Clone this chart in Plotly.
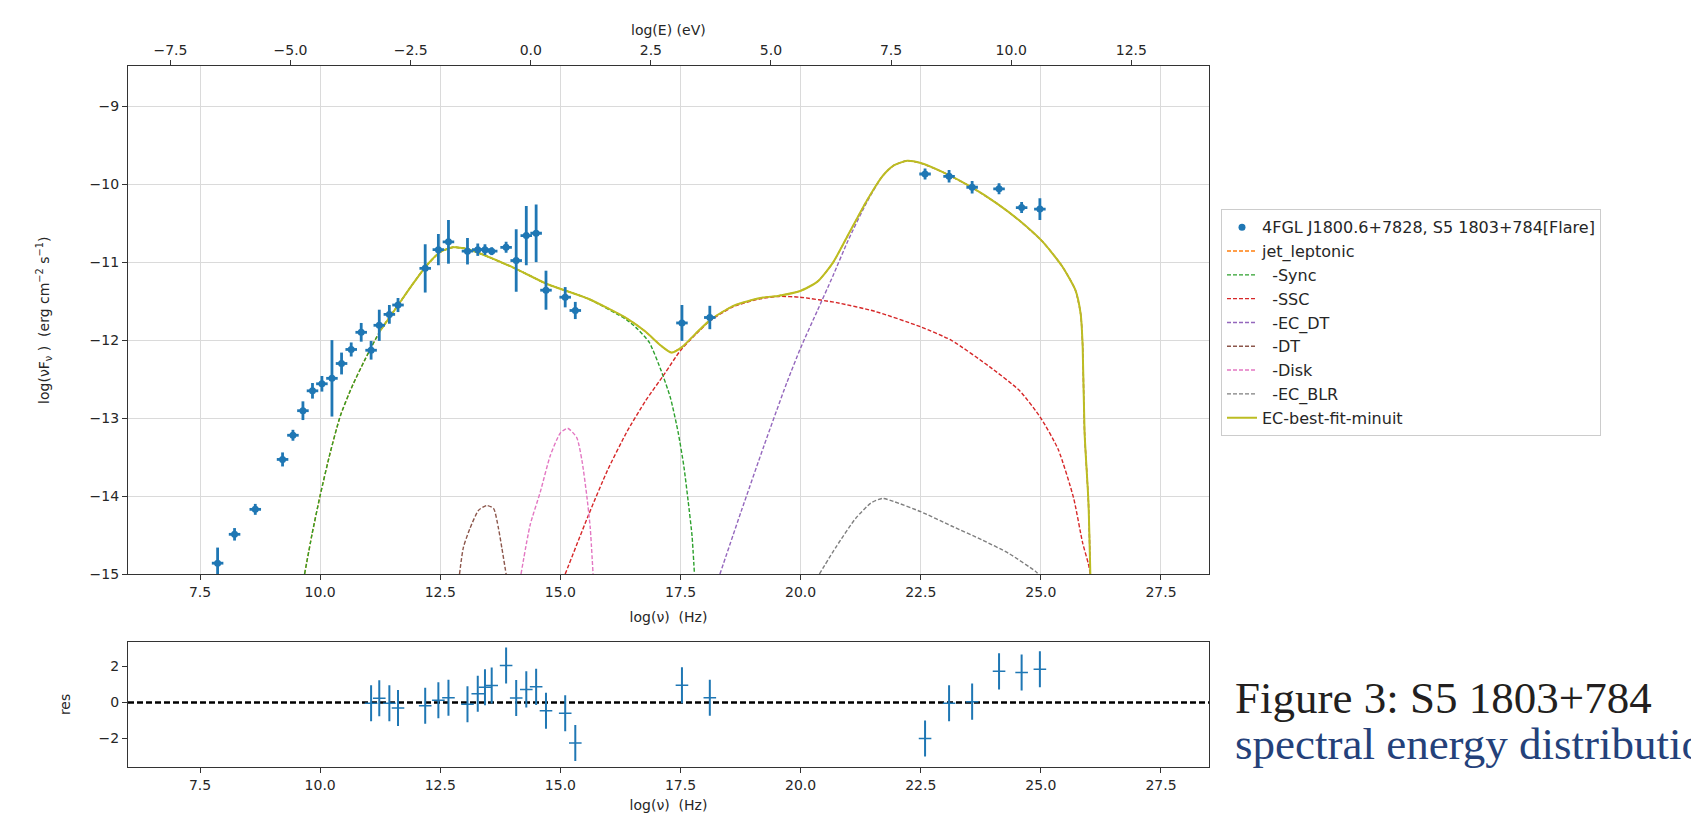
import plotly.graph_objects as go

# ---------------- data ----------------
nu_data = [7.865, 8.218, 8.649, 9.217, 9.433, 9.641, 9.840, 10.036, 10.245, 10.445,
           10.646, 10.854, 11.060, 11.230, 11.440, 11.620, 12.186, 12.460, 12.670, 13.066,
           13.280, 13.430, 13.570, 13.870, 14.080, 14.290, 14.495, 14.700, 15.100, 15.310,
           17.530, 18.110, 22.590, 23.090, 23.570, 24.130, 24.600, 24.980]
flux_data = [-14.86, -14.49, -14.17, -13.53, -13.22, -12.905, -12.65, -12.56, -12.49, -12.30,
             -12.12, -11.90, -12.13, -11.81, -11.67, -11.55, -11.08, -10.84, -10.74, -10.86,
             -10.84, -10.84, -10.86, -10.81, -10.98, -10.66, -10.63, -11.36, -11.45, -11.62,
             -11.78, -11.71, -9.87, -9.90, -10.04, -10.06, -10.30, -10.32]
flux_err = [0.20, 0.08, 0.07, 0.09, 0.07, 0.12, 0.10, 0.10, 0.49, 0.14,
            0.09, 0.12, 0.12, 0.20, 0.12, 0.09, 0.31, 0.20, 0.28, 0.17,
            0.08, 0.07, 0.05, 0.07, 0.40, 0.38, 0.37, 0.25, 0.13, 0.11,
            0.23, 0.15, 0.07, 0.08, 0.08, 0.07, 0.07, 0.14]
nu_err = [0.12] * len(nu_data)

fit_min_nu = 11.0
residuals = [-0.04, 0.24, -0.04, -0.30, -0.18, 0.13, 0.27, -0.09, 0.49, 0.85,
             0.95, 2.05, 0.25, 0.73, 0.87, -0.45, -0.60, -2.24, 0.96, 0.27,
             -2.00, -0.04, 0.05, 1.73, 1.67, 1.85]
res_err = [1.0] * len(residuals)

total_x = [9.675, 9.83, 10.0, 10.21, 10.42, 10.66, 10.94, 11.25, 11.60, 11.94, 12.22, 12.50,
           12.77, 13.05, 13.33, 14.02, 14.72, 15.58, 16.38, 16.77, 17.09, 17.31, 17.53, 17.81,
           18.12, 18.60, 19.16, 19.55, 19.99, 20.35, 20.67, 20.99, 21.38, 21.70, 21.94, 22.22,
           22.50, 22.97, 23.53, 24.09, 24.56, 25.04, 25.44, 25.72, 25.83, 25.87, 25.91, 25.99, 26.03]
total_y = [-15.0, -14.49, -13.99, -13.44, -12.97, -12.60, -12.24, -11.88, -11.57, -11.27, -11.04, -10.87,
           -10.81, -10.83, -10.89, -11.07, -11.28, -11.47, -11.72, -11.89, -12.07, -12.16, -12.09, -11.92,
           -11.74, -11.56, -11.46, -11.43, -11.37, -11.25, -11.01, -10.65, -10.21, -9.90, -9.76, -9.70,
           -9.73, -9.85, -10.03, -10.25, -10.47, -10.74, -11.05, -11.36, -11.67, -12.07, -13.18, -14.07, -15.0]

sync_x = [9.675, 9.83, 10.0, 10.21, 10.42, 10.66, 10.94, 11.25, 11.60, 11.94, 12.22, 12.50, 12.77,
          13.05, 13.33, 14.02, 14.72, 15.58, 16.38, 16.61, 16.85, 17.09, 17.29, 17.45, 17.57,
          17.66, 17.74, 17.79]
sync_y = [-15.0, -14.49, -13.99, -13.44, -12.97, -12.60, -12.24, -11.88, -11.57, -11.27, -11.04,
          -10.87, -10.81, -10.83, -10.89, -11.07, -11.28, -11.47, -11.74, -11.86, -12.03, -12.38,
          -12.74, -13.18, -13.62, -14.07, -14.51, -15.0]

ssc_x = [15.10, 15.58, 15.98, 16.38, 16.77, 17.17, 17.49, 17.81, 18.12, 18.60, 19.16, 19.55, 19.99,
         20.75, 21.54, 22.50, 23.13, 23.93, 24.56, 25.00, 25.36, 25.68, 25.87, 25.99, 26.03]
ssc_y = [-15.0, -14.25, -13.67, -13.18, -12.78, -12.43, -12.14, -11.93, -11.75, -11.57, -11.47,
         -11.44, -11.45, -11.52, -11.63, -11.83, -12.0, -12.34, -12.65, -13.0, -13.40, -14.02,
         -14.60, -14.87, -15.0]

ecdt_x = [18.32, 18.76, 19.24, 19.71, 20.00, 20.35, 20.67, 20.99, 21.38, 21.70, 21.94, 22.22, 22.50,
          22.97, 23.53, 24.09, 24.56, 25.04, 25.44, 25.72, 25.83, 25.87, 25.91, 25.99, 26.03]
ecdt_y = [-15.0, -14.20, -13.35, -12.55, -12.10, -11.62, -11.18, -10.72, -10.23, -9.90, -9.76, -9.70,
          -9.73, -9.85, -10.03, -10.25, -10.47, -10.74, -11.05, -11.36, -11.67, -12.07, -13.18,
          -14.07, -15.0]

dt_x = [12.90, 12.98, 13.12, 13.30, 13.47, 13.61, 13.71, 13.78, 13.87]
dt_y = [-15.0, -14.66, -14.41, -14.18, -14.12, -14.16, -14.41, -14.66, -15.0]

disk_x = [14.18, 14.37, 14.58, 14.79, 15.00, 15.15, 15.34, 15.45, 15.55, 15.62, 15.68]
disk_y = [-15.0, -14.37, -13.95, -13.48, -13.19, -13.13, -13.25, -13.55, -14.0, -14.4, -15.0]

blr_x = [20.39, 20.75, 21.14, 21.46, 21.70, 21.94, 22.50, 23.13, 23.77, 24.32, 24.88, 24.95]
blr_y = [-15.0, -14.64, -14.29, -14.09, -14.03, -14.07, -14.20, -14.38, -14.56, -14.73, -14.96, -15.0]

LOG_H_EV = -14.383  # log10(h) in eV s, for the top energy axis
x_range = [6.0, 28.5]

# ---------------- figure ----------------
FONT = "DejaVu Sans"
TXT = "#262626"
fig = go.Figure()

def dashed(x, y, name, color, rank):
    fig.add_trace(go.Scatter(x=x, y=y, mode="lines", name=name, legendrank=rank,
                             line=dict(color=color, width=1.4, dash="4px,2px", shape="spline", smoothing=0.6),
                             xaxis="x", yaxis="y"))

dashed(total_x, total_y, "jet_leptonic", "#ff7f0e", 2)
dashed(sync_x, sync_y, "  -Sync", "#2ca02c", 3)
dashed(ssc_x, ssc_y, "  -SSC", "#d62728", 4)
dashed(ecdt_x, ecdt_y, "  -EC_DT", "#9467bd", 5)
dashed(dt_x, dt_y, "  -DT", "#8c564b", 6)
dashed(disk_x, disk_y, "  -Disk", "#e377c2", 7)
dashed(blr_x, blr_y, "  -EC_BLR", "#7f7f7f", 8)

fit_x = [x for x in total_x if x >= fit_min_nu]
fit_y = [y for x, y in zip(total_x, total_y) if x >= fit_min_nu]
fig.add_trace(go.Scatter(x=fit_x, y=fit_y, mode="lines", name="EC-best-fit-minuit", legendrank=9,
                         line=dict(color="#bcbd22", width=2, shape="spline", smoothing=0.6),
                         xaxis="x", yaxis="y"))

fig.add_trace(go.Scatter(x=nu_data, y=flux_data, mode="markers",
                         name="4FGL J1800.6+7828, S5 1803+784[Flare]", legendrank=1,
                         marker=dict(color="#1f77b4", size=7, symbol="circle"),
                         error_y=dict(type="data", array=flux_err, color="#1f77b4", thickness=2.8, width=0),
                         error_x=dict(type="data", array=nu_err, color="#1f77b4", thickness=2.8, width=0),
                         xaxis="x", yaxis="y"))

# same points expressed in energy, invisible, so that the top energy axis is drawn
fig.add_trace(go.Scatter(x=[v + LOG_H_EV for v in nu_data], y=flux_data, mode="markers",
                         marker=dict(opacity=0), showlegend=False, hoverinfo="skip",
                         xaxis="x3", yaxis="y"))

res_x = [x for x in nu_data if x >= fit_min_nu]
fig.add_trace(go.Scatter(x=res_x, y=residuals, mode="markers", showlegend=False,
                         marker=dict(color="#1f77b4", size=9, symbol="line-ew",
                                     line=dict(color="#1f77b4", width=1.5)),
                         error_y=dict(type="data", array=res_err, color="#1f77b4", thickness=2, width=0),
                         xaxis="x2", yaxis="y2"))

OFF = 8  # page body margin
W, H = 1699 - 2 * OFF, 821 - 2 * OFF
def px(xl, xr):
    return [(xl - OFF) / W, (xr - OFF) / W]
def py(top, bottom):
    return [1 - (bottom - OFF) / H, 1 - (top - OFF) / H]
def pyv(y):
    return 1 - (y - OFF) / H
def pxv(x):
    return (x - OFF) / W

axis_common = dict(showline=True, mirror=True, linecolor="#333333", linewidth=1.2,
                   ticks="outside", ticklen=5, tickcolor="#333333", zeroline=False,
                   tickfont=dict(family=FONT, size=14, color=TXT))

fig.update_layout(
    width=W, height=H,
    margin=dict(l=0, r=0, t=0, b=0),
    paper_bgcolor="white", plot_bgcolor="white",
    font=dict(family=FONT, size=14, color=TXT),
    xaxis=dict(domain=px(128, 1209), anchor="y", range=x_range, dtick=2.5, tick0=0,
               tickformat=".1f", showgrid=True, gridcolor="#dadada", gridwidth=1,
               title=dict(text="log(ν)  (Hz)", standoff=13, font=dict(family=FONT, size=14, color=TXT)),
               **axis_common),
    yaxis=dict(domain=py(68, 590), anchor="x", range=[-15, -8.49], dtick=1,
               showgrid=True, gridcolor="#dadada", gridwidth=1,
               title=dict(text="log(νF<sub>ν</sub> )  (erg cm<sup>−2</sup> s<sup>−1</sup>)", standoff=36,
                          font=dict(family=FONT, size=14, color=TXT)),
               **axis_common),
    xaxis3=dict(overlaying="x", side="top", anchor="y",
                range=[x_range[0] + LOG_H_EV, x_range[1] + LOG_H_EV], dtick=2.5, tick0=0,
                tickformat=".1f", showgrid=False, **axis_common),
    xaxis2=dict(domain=px(128, 1209), anchor="y2", range=x_range, dtick=2.5, tick0=0,
                tickformat=".1f", showgrid=False,
                title=dict(text="log(ν)  (Hz)", standoff=11, font=dict(family=FONT, size=14, color=TXT)),
                **axis_common),
    yaxis2=dict(domain=py(660, 788), anchor="x2", range=[-3.56, 3.35], dtick=2, showgrid=False,
                title=dict(text="res", standoff=24, font=dict(family=FONT, size=14, color=TXT)),
                **axis_common),
    legend=dict(x=pxv(1221), y=pyv(215), xanchor="left", yanchor="top",
                bgcolor="white", bordercolor="#cccccc", borderwidth=1,
                font=dict(family=FONT, size=16, color=TXT), tracegroupgap=0, itemwidth=30),
    shapes=[dict(type="line", xref="x2 domain", yref="y2", x0=0, x1=1, y0=0, y1=0,
                 line=dict(color="black", width=2.6, dash="6px,3px"), layer="below")],
    annotations=[
        dict(text="log(E) (eV)", xref="x domain", yref="y domain", x=0.5, y=1, yshift=36,
             xanchor="center", yanchor="middle", showarrow=False,
             font=dict(family=FONT, size=14, color=TXT)),
        dict(text="Figure 3: S5 1803+784", xref="paper", yref="paper", x=pxv(1233), y=pyv(717),
             xanchor="left", yanchor="middle", showarrow=False,
             font=dict(family="Liberation Serif", size=45, color="#231f20")),
        dict(text="spectral energy distribution", xref="paper", yref="paper", x=pxv(1233), y=pyv(765),
             xanchor="left", yanchor="middle", showarrow=False,
             font=dict(family="Liberation Serif", size=45, color="#24417a")),
    ],
)

fig.write_html("out.html")
